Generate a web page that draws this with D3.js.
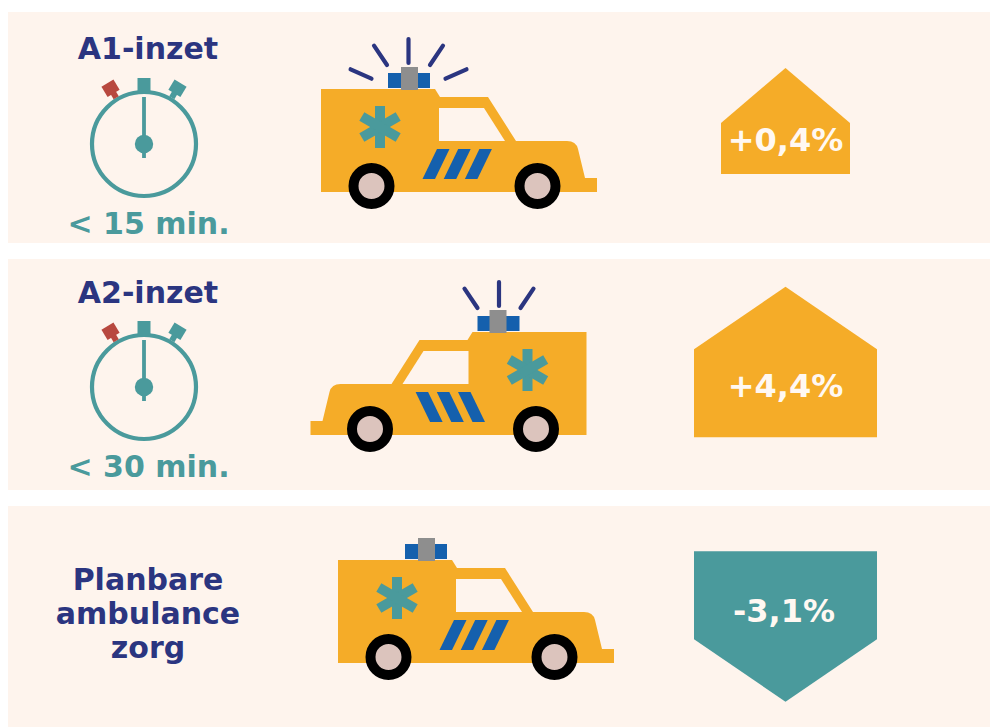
<!DOCTYPE html>
<html>
<head>
<meta charset="utf-8">
<script src="https://cdn.jsdelivr.net/npm/d3@7"></script>
<style>
html,body{margin:0;padding:0;background:#fff;overflow:hidden}
svg{display:block}
text{font-family:"DejaVu Sans",Verdana,sans-serif;font-weight:700}
</style>
</head>
<body>
<svg id="c" width="990" height="727"></svg>
<script>
// Data
const categories = ["A1-inzet", "A2-inzet", "Planbare ambulance zorg"];
const titleLines = [["A1-inzet"], ["A2-inzet"], ["Planbare", "ambulance", "zorg"]];
const timeLimits = ["< 15 min.", "< 30 min.", null];
const changes = [0.4, 4.4, -3.1];
const changeLabels = ["+0,4%", "+4,4%", "-3,1%"];
const facing = [1, -1, 1];
const rayCounts = [5, 3, 0];

// Colours
const bg = "#fef4ed", orange = "#f5ac28", teal = "#4a9a9c", navy = "#2b3580",
      blue = "#1560ad", gray = "#8e8e8e", red = "#b8483f", hubcap = "#dcc4bd";

const svg = d3.select("#c");

// Scales
const rowY = d3.scalePoint().domain(categories).range([12, 506]);
const vanX = d3.scaleOrdinal(categories, [321, 586.5, 338]);
const vanY = d3.scaleOrdinal(categories, [77, 73, 54]);
const arrowMid = d3.scaleOrdinal(categories, [109, 103, 120.5]);
const arrowW = d3.scaleThreshold().domain([1]).range([129, 183]);
const arrowH = d3.scaleThreshold().domain([1]).range([106, 150.5]);
const arrowHead = d3.scaleThreshold().domain([1]).range([55, 62.5]);
const sign = d3.scaleThreshold().domain([0]).range([-1, 1]);
const fillFor = d3.scaleThreshold().domain([0]).range([teal, orange]);

const line = d3.line();

function drawVan(g, rays) {
  const body = d3.path();
  body.moveTo(0, 0); body.lineTo(114, 0); body.lineTo(119, 8); body.lineTo(167, 8);
  body.lineTo(195, 52); body.lineTo(246, 52);
  body.quadraticCurveTo(255, 52, 257, 60);
  body.lineTo(264, 89); body.lineTo(276, 89); body.lineTo(276, 103); body.lineTo(0, 103);
  body.closePath();
  g.append("path").attr("d", body.toString()).attr("fill", orange);
  g.append("path").attr("d", line([[118, 19], [163, 19], [184, 52], [118, 52]]) + "Z").attr("fill", bg);
  // blue stripes
  d3.range(3).forEach(i => {
    const o = i * 21.2;
    g.append("path")
      .attr("d", line([[116 + o, 60], [128.5 + o, 60], [114 + o, 90], [101.5 + o, 90]]) + "Z")
      .attr("fill", blue);
  });
  // star of life
  [0, 60, 120].forEach(a => g.append("rect")
    .attr("x", -5).attr("y", -21).attr("width", 10).attr("height", 42)
    .attr("fill", teal)
    .attr("transform", `translate(59,38) rotate(${a})`));
  // wheels
  [50.5, 216.5].forEach(x => g.append("circle")
    .attr("cx", x).attr("cy", 97).attr("r", 18)
    .attr("fill", hubcap).attr("stroke", "#000").attr("stroke-width", 10));
  // light
  g.append("rect").attr("x", 67).attr("y", -16).attr("width", 42).attr("height", 15).attr("fill", blue);
  g.append("rect").attr("x", 80).attr("y", -22).attr("width", 17).attr("height", 23).attr("fill", gray);
  // rays
  const allRays = [
    [[87.5, -50], [87.5, -26]],
    [[53, -43.3], [66, -24]],
    [[122, -43.3], [109, -24]],
    [[29.6, -19.7], [50.5, -10.3]],
    [[145.5, -19.7], [124.5, -10.3]]
  ];
  allRays.slice(0, rays).forEach(r => g.append("path")
    .attr("d", line(r)).attr("fill", "none").attr("stroke", navy)
    .attr("stroke-width", 4.2).attr("stroke-linecap", "round"));
}

function drawWatch(g) {
  g.append("circle").attr("r", 52).attr("fill", "none").attr("stroke", teal).attr("stroke-width", 4.2);
  g.append("rect").attr("x", -1.9).attr("y", -47).attr("width", 3.8).attr("height", 61)
    .attr("fill", teal);
  g.append("circle").attr("r", 9.2).attr("fill", teal);
  g.append("rect").attr("x", -6.5).attr("y", -66).attr("width", 13).attr("height", 13).attr("fill", teal);
  [[-31, red], [31, teal]].forEach(([a, col]) => {
    const b = g.append("g").attr("transform", `rotate(${a})`);
    b.append("rect").attr("x", -7).attr("y", -71).attr("width", 14).attr("height", 12).attr("fill", col);
    b.append("rect").attr("x", -3).attr("y", -60).attr("width", 6).attr("height", 6).attr("fill", col);
  });
}

categories.forEach((cat, i) => {
  const row = svg.append("g").attr("transform", `translate(0,${rowY(cat)})`);
  row.append("rect").attr("x", 8).attr("y", 0).attr("width", 982).attr("height", 231).attr("fill", bg);

  // Title
  const lines = titleLines[i];
  const firstBase = lines.length > 1 ? 84 : (i === 0 ? 46.5 : 43.5);
  lines.forEach((t, k) => row.append("text")
    .attr("x", 148).attr("y", firstBase + k * 34)
    .attr("text-anchor", "middle").attr("font-size", 30).attr("fill", navy).text(t));

  // Stopwatch + limit
  if (timeLimits[i]) {
    drawWatch(row.append("g").attr("transform", `translate(144,${i === 0 ? 132 : 128})`));
    row.append("text").attr("x", 148.5).attr("y", i === 0 ? 222 : 218)
      .attr("text-anchor", "middle").attr("font-size", 30).attr("fill", teal).text(timeLimits[i]);
  }

  // Van
  const van = row.append("g")
    .attr("transform", `translate(${vanX(cat)},${vanY(cat)}) scale(${facing[i]},1)`);
  drawVan(van, rayCounts[i]);

  // Arrow
  const v = changes[i], a = Math.abs(v), s = sign(v);
  const w = arrowW(a), h = arrowH(a), head = arrowHead(a);
  const cx = 785.5, my = arrowMid(cat);
  const yTip = my - s * h / 2, yBase = my + s * h / 2, yShoulder = yTip + s * head;
  row.append("path")
    .attr("d", line([[cx, yTip], [cx + w / 2, yShoulder], [cx + w / 2, yBase], [cx - w / 2, yBase], [cx - w / 2, yShoulder]]) + "Z")
    .attr("fill", fillFor(v));
  row.append("text")
    .attr("x", s > 0 ? cx : cx - 1.5).attr("y", s > 0 ? yBase - (i === 0 ? 23 : 40) : yBase + 71)
    .attr("text-anchor", "middle").attr("font-size", 32).attr("fill", "#fff8f2")
    .text(changeLabels[i]);
});
</script>
</body>
</html>
